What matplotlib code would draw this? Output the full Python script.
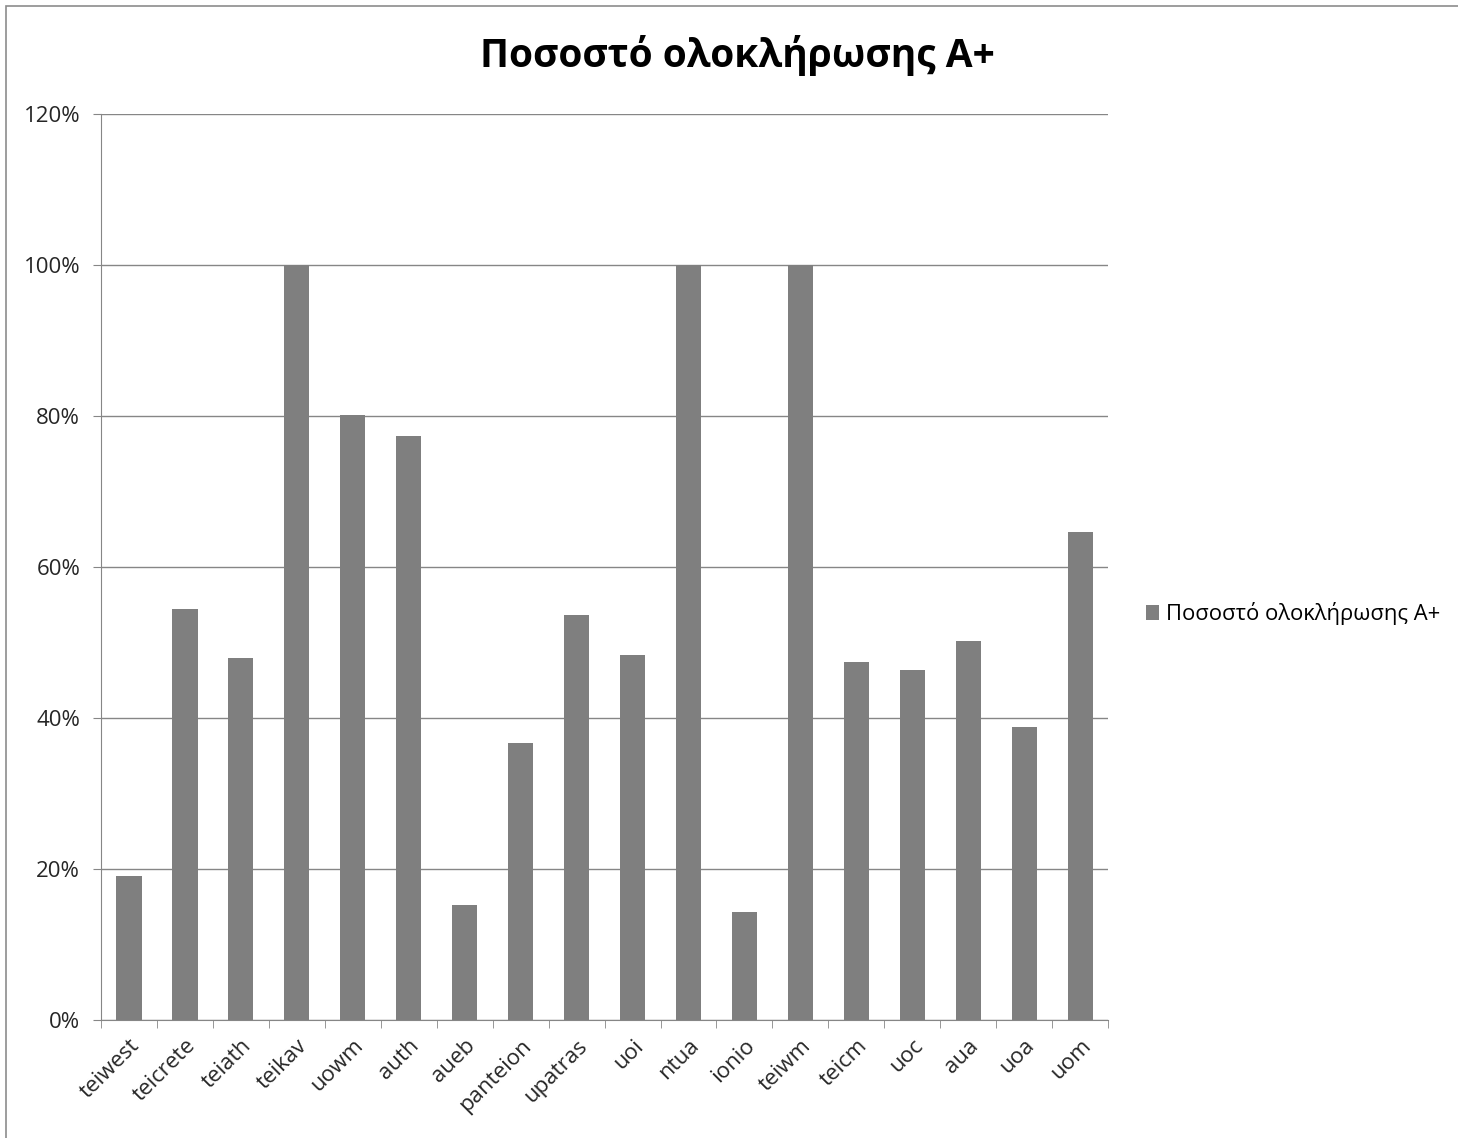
import matplotlib.pyplot as plt
import matplotlib.patches as patches
import numpy as np
from matplotlib.ticker import PercentFormatter

plt.rcParams['font.family'] = ['Open Sans', 'DejaVu Sans']

# Datos
idrymata = ['teiwest', 'teicrete', 'teiath', 'teikav', 'uowm', 'auth', 'aueb',
            'panteion', 'upatras', 'uoi', 'ntua', 'ionio', 'teiwm', 'teicm',
            'uoc', 'aua', 'uoa', 'uom']
pososto = [19.1, 54.4, 47.9, 100, 80.1, 77.4, 15.2, 36.7, 53.6, 48.3, 100,
           14.3, 100, 47.4, 46.4, 50.2, 38.8, 64.6]
titlos = 'Ποσοστό ολοκλήρωσης A+'

fig = plt.figure(figsize=(14.58, 11.38), dpi=100)
ax = fig.add_axes([0.0693, 0.1037, 0.6907, 0.7961])

# Πλαίσιο γραφήματος
fig.patches.append(patches.Rectangle((6 / 1458, -0.01), 1.1, 1 - 6 / 1138 + 0.01,
                                     transform=fig.transFigure, fill=False,
                                     edgecolor='#8c8c8c', linewidth=1.2))

x = np.arange(len(idrymata))
ax.bar(x, pososto, width=0.45, color='#7f7f7f', label=titlos, zorder=3)

ax.set_xlim(-0.5, len(idrymata) - 0.5)
ax.set_ylim(0, 120)
ax.set_yticks(np.arange(0, 121, 20))
ax.yaxis.set_major_formatter(PercentFormatter(decimals=0))
ax.grid(axis='y', color='#868686', linewidth=1, zorder=0)

ax.set_xticks(x)
ax.set_xticklabels(idrymata, rotation=45, ha='right', rotation_mode='anchor')
ax.set_xticks(np.arange(-0.5, len(idrymata)), minor=True)
ax.tick_params(axis='x', which='major', length=0, labelsize=16, pad=11)
ax.tick_params(axis='x', which='minor', length=6, color='#868686')
ax.tick_params(axis='y', length=6, color='#868686', labelsize=16, pad=9,
               labelcolor='#262626')
for lab in ax.get_xticklabels():
    lab.set_color('#262626')

for s in ['top', 'right']:
    ax.spines[s].set_visible(False)
for s in ['left', 'bottom']:
    ax.spines[s].set_color('#868686')

fig.text(0.506, 0.951, titlos, ha='center', va='center', fontsize=28,
         fontweight='bold')

fig.legend(loc='center left', bbox_to_anchor=(0.786, 0.4605), frameon=False,
           fontsize=15.8, handlelength=0.6, handleheight=0.7, handletextpad=0.3,
           borderaxespad=0, borderpad=0)

plt.savefig('out.png', dpi=100)
